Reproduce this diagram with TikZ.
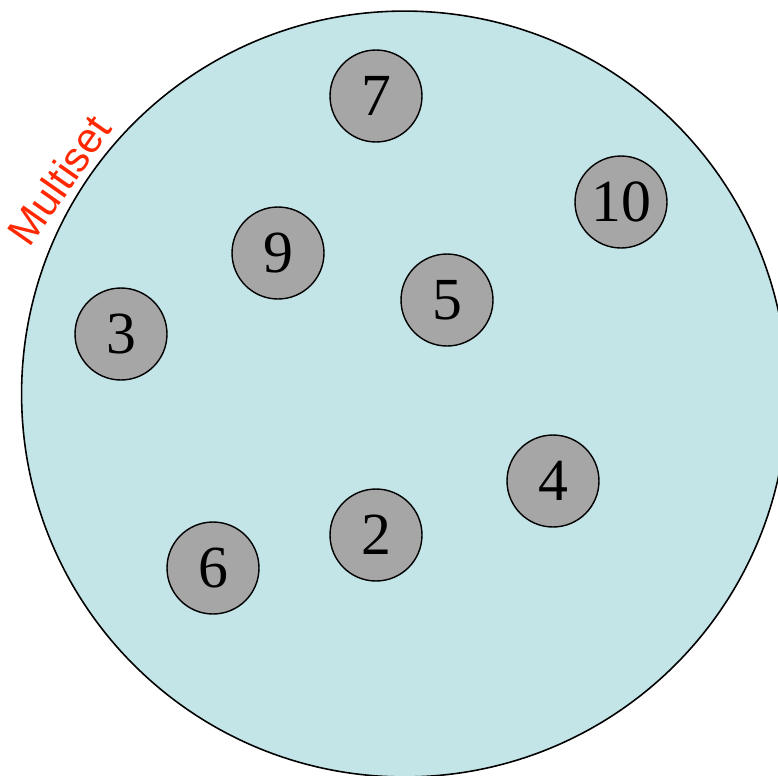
\documentclass[tikz,border=0pt]{standalone}
\usepackage{fontspec}
\setmainfont{Liberation Serif}
\newfontfamily\labelfont{Liberation Sans}
\usepackage{tikz}
\definecolor{setblue}{RGB}{196,229,232}
\definecolor{ballgray}{RGB}{166,166,166}
\definecolor{labelred}{RGB}{255,40,0}

\begin{document}
\begin{tikzpicture}[x=0.02cm,y=-0.02cm,
ball/.style={circle,draw,line width=0.8pt,fill=ballgray,minimum size=1.84cm,inner sep=0pt,font=\fontsize{34}{34}\selectfont}]
\useasboundingbox(0,0)rectangle(778,775);
\clip(0,0)rectangle(778,775);
\draw[fill=setblue,line width=0.9pt](404.5,394)circle[radius=7.66cm];
\node[rotate=55,text=labelred,font=\labelfont\fontsize{24}{24}\selectfont](lbl)at(59,180){Multiset};
\node[ball](b7)at(376,96){7};
\node[ball](b10)at(621,202){10};
\node[ball](b9)at(278,253){9};
\node[ball](b5)at(447,300){5};
\node[ball](b3)at(121,334){3};
\node[ball](b4)at(553,481){4};
\node[ball](b2)at(376,535){2};
\node[ball](b6)at(213,568){6};
\end{tikzpicture}
\end{document}
